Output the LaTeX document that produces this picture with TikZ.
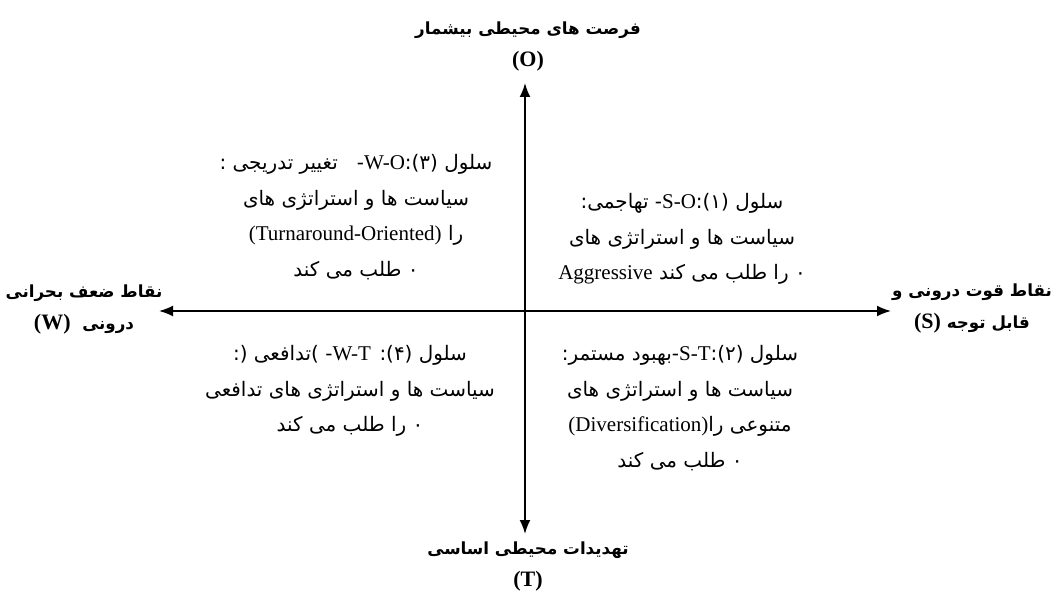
\documentclass[tikz,border=0pt]{standalone}
\usepackage{fontspec}
\usetikzlibrary{positioning}
\usetikzlibrary{arrows.meta}
\setmainfont{Liberation Serif}
\newfontfamily\arabicfont[Script=Arabic, Scale=0.95]{DejaVu Sans}
\newfontfamily\arabichead[Script=Arabic, Scale=0.76]{DejaVu Sans}
\TeXXeTstate=1
\newcommand{\fa}[1]{{\arabicfont\beginR #1\endR}}
\newcommand{\fah}[1]{{\arabichead\beginR #1\endR}}
\newcommand{\lat}[1]{\beginL{\rmfamily #1}\endL}

\begin{document}
\begin{tikzpicture}[
        x = 1pt, y = -1pt,
        axis/.style = {
            line width = 1.8pt,
            {Latex[length=14pt, width=11pt]}-{Latex[length=14pt, width=11pt]}
        },
        head/.style = {
            align = center,
            inner sep = 0pt,
            font = \fontsize{22}{32}\selectfont\bfseries
        },
        cell/.style = {
            align = center,
            inner sep = 0pt,
            font = \fontsize{21}{35.5}\selectfont
        }
        ]
        \useasboundingbox (0,0) rectangle (1059,593);
%
        \coordinate (north) at (525,83);
        \coordinate (south) at (525,534);
        \coordinate (west) at (159,311);
        \coordinate (east) at (891,311);
%
        \draw[axis] (west) -- (east);
        \draw[axis] (north) -- (south);
%
        \node[head] (opp) at (528,46) {\fah{فرصت های محیطی بیشمار}\\(O)};
        \node[head] (thr) at (528,566) {\fah{تهدیدات محیطی اساسی}\\(T)};
        \node[head] (wek) at (84,309) {\fah{نقاط ضعف بحرانی}\\\fah{درونی\ \ \lat{(W)}}};
        \node[head] (str) at (972,308) {\fah{نقاط قوت درونی و}\\\fah{قابل توجه \lat{(S)}}};
%
        \node[cell] (wo) at (356,217) {\fa{سلول (۳)\kern0pt:\lat{W-O}-\ \ \ تغییر تدریجی :}\\
            \fa{سیاست ها و استراتژی های}\\
            \fa{را \lat{(Turnaround-Oriented)}}\\
            \fa{۰ طلب می کند}};
        \node[cell] (so) at (682,239) {\fa{سلول (۱)\kern0pt:\lat{S-O}- تهاجمی:}\\
            \fa{سیاست ها و استراتژی های}\\
            \fa{۰ را طلب می کند \lat{Aggressive}}};
%
        \node[cell] (wt) at (350,391) {\fa{سلول (۴)\kern0pt: \lat{W-T}- )\kern0pt تدافعی (\kern0pt:}\\
            \fa{سیاست ها و استراتژی های تدافعی}\\
            \fa{۰ را طلب می کند}};
        \node[cell] (st) at (680,408) {\fa{سلول (۲)\kern0pt:\lat{S-T}-\kern0pt بهبود مستمر:}\\
            \fa{سیاست ها و استراتژی های}\\
            \fa{متنوعی را\kern0pt\lat{(Diversification)}}\\
            \fa{۰ طلب می کند}};
\end{tikzpicture}
\end{document}
